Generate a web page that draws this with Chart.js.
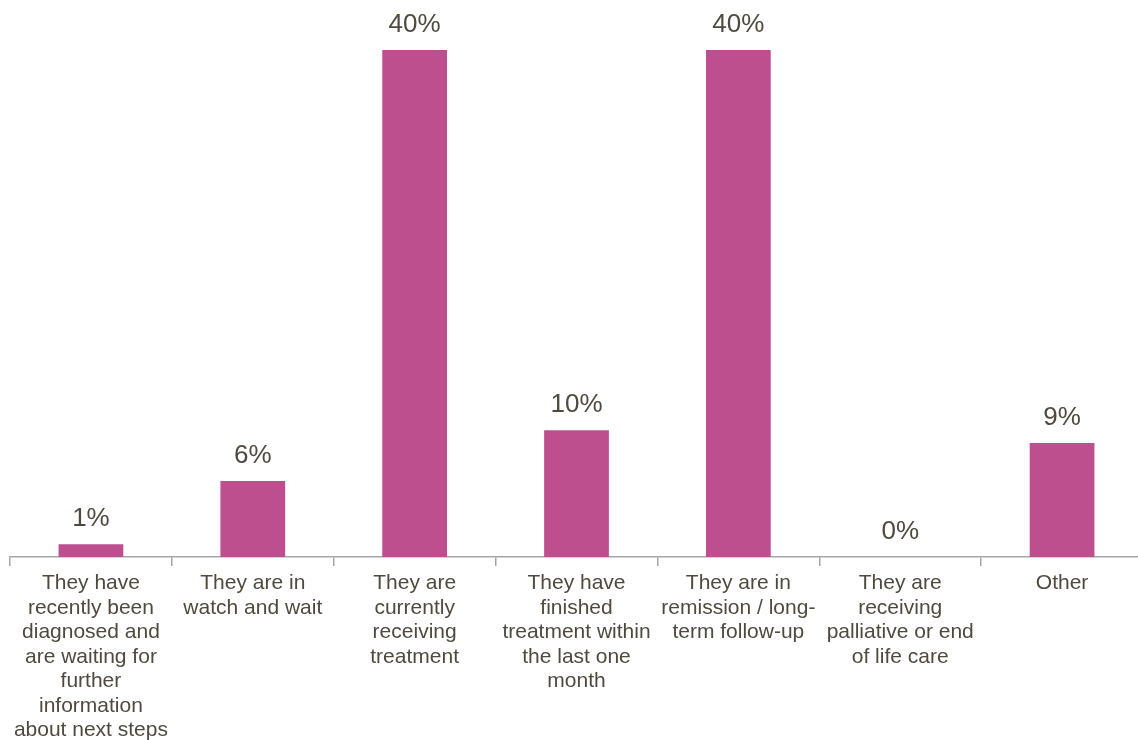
<!DOCTYPE html>
<html><head><meta charset="utf-8">
<script src="https://cdn.jsdelivr.net/npm/chart.js@4/dist/chart.umd.min.js"></script>
<style>
html,body{margin:0;padding:0;overflow:hidden;background:#fff;}
#wrap{width:1150px;height:740px;position:relative;}
</style></head>
<body><div id="wrap"><canvas id="c"></canvas></div>
<script>
const categories = [
  ["They have","recently been","diagnosed and","are waiting for","further","information","about next steps"],
  ["They are in","watch and wait"],
  ["They are","currently","receiving","treatment"],
  ["They have","finished","treatment within","the last one","month"],
  ["They are in","remission / long-","term follow-up"],
  ["They are","receiving","palliative or end","of life care"],
  ["Other"]
];
const values = [1, 6, 40, 10, 40, 0, 9];
const valueLabels = ["1%","6%","40%","10%","40%","0%","9%"];

const textColor = '#4f4a40';
const barColor = '#bd4f8e';

const valueLabelPlugin = {
  id: 'valueLabels',
  afterDatasetsDraw(chart) {
    const ctx = chart.ctx;
    const meta = chart.getDatasetMeta(0);
    ctx.save();
    ctx.font = '26px "Liberation Sans", Arial, sans-serif';
    ctx.fillStyle = textColor;
    ctx.textAlign = 'center';
    ctx.textBaseline = 'middle';
    meta.data.forEach((bar, i) => {
      ctx.fillText(valueLabels[i], bar.x, bar.y - 25);
    });
    ctx.restore();
  }
};

new Chart(document.getElementById('c'), {
  type: 'bar',
  data: {
    labels: categories,
    datasets: [{
      data: values,
      backgroundColor: barColor,
      borderWidth: 0,
      barPercentage: 0.4,
      categoryPercentage: 1.0
    }]
  },
  options: {
    responsive: true,
    maintainAspectRatio: false,
    animation: false,
    events: [],
    layout: { padding: { left: 10, right: 7, top: 50, bottom: 0 } },
    plugins: { legend: { display: false }, tooltip: { enabled: false } },
    scales: {
      y: { display: false, min: 0, max: 40 },
      x: {
        offset: true,
        afterFit(scale) { scale.height = 183; },
        border: { display: true, color: '#a6a6a6', width: 1.5 },
        grid: { display: true, offset: true, drawOnChartArea: false, drawTicks: true, tickLength: 9, color: '#a6a6a6', lineWidth: 1.5 },
        ticks: {
          autoSkip: false, maxRotation: 0, minRotation: 0, padding: 5,
          color: textColor,
          font: { family: '"Liberation Sans", Arial, sans-serif', size: 21, lineHeight: 1.167 }
        }
      }
    }
  },
  plugins: [valueLabelPlugin]
});
</script></body></html>
